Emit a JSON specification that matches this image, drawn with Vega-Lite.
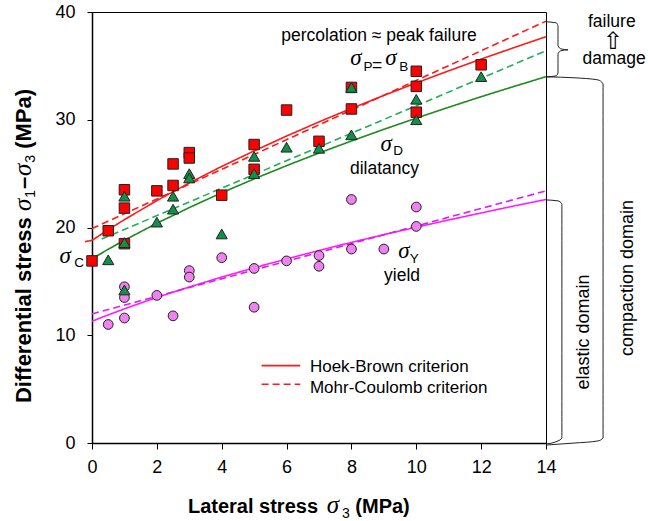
{
  "$schema": "https://vega.github.io/schema/vega-lite/v6.json",
  "width": 454,
  "height": 431,
  "autosize": {"type": "none"},
  "padding": {"left": 92, "top": 12, "right": 102, "bottom": 78},
  "background": "white",
  "config": {
    "view": {"stroke": "black", "strokeWidth": 1},
    "font": "Liberation Sans",
    "axis": {
      "grid": false,
      "domainColor": "black",
      "domainWidth": 1.5,
      "tickColor": "black",
      "tickSize": 6,
      "labelFlush": false,
      "labelFont": "Liberation Sans",
      "labelColor": "black"
    }
  },
  "datasets": {
    "curves": [
      {"x": -0.22, "y": 18.69, "set": "peak-HB", "crit": "HB"},
      {"x": 0, "y": 18.8, "set": "peak-HB", "crit": "HB"},
      {"x": 0.25, "y": 19.3, "set": "peak-HB", "crit": "HB"},
      {"x": 0.5, "y": 19.79, "set": "peak-HB", "crit": "HB"},
      {"x": 1, "y": 20.73, "set": "peak-HB", "crit": "HB"},
      {"x": 2, "y": 22.5, "set": "peak-HB", "crit": "HB"},
      {"x": 3, "y": 24.13, "set": "peak-HB", "crit": "HB"},
      {"x": 4, "y": 25.67, "set": "peak-HB", "crit": "HB"},
      {"x": 5, "y": 27.11, "set": "peak-HB", "crit": "HB"},
      {"x": 6, "y": 28.49, "set": "peak-HB", "crit": "HB"},
      {"x": 7, "y": 29.8, "set": "peak-HB", "crit": "HB"},
      {"x": 8, "y": 31.05, "set": "peak-HB", "crit": "HB"},
      {"x": 9, "y": 32.26, "set": "peak-HB", "crit": "HB"},
      {"x": 10, "y": 33.42, "set": "peak-HB", "crit": "HB"},
      {"x": 11, "y": 34.54, "set": "peak-HB", "crit": "HB"},
      {"x": 12, "y": 35.63, "set": "peak-HB", "crit": "HB"},
      {"x": 13, "y": 36.68, "set": "peak-HB", "crit": "HB"},
      {"x": 14, "y": 37.71, "set": "peak-HB", "crit": "HB"},
      {"x": 0, "y": 19.9, "set": "peak-MC", "crit": "MC"},
      {"x": 14, "y": 39.15, "set": "peak-MC", "crit": "MC"},
      {"x": 0, "y": 17.1, "set": "dil-HB", "crit": "HB"},
      {"x": 0.5, "y": 17.98, "set": "dil-HB", "crit": "HB"},
      {"x": 1, "y": 18.82, "set": "dil-HB", "crit": "HB"},
      {"x": 2, "y": 20.39, "set": "dil-HB", "crit": "HB"},
      {"x": 3, "y": 21.85, "set": "dil-HB", "crit": "HB"},
      {"x": 4, "y": 23.22, "set": "dil-HB", "crit": "HB"},
      {"x": 5, "y": 24.51, "set": "dil-HB", "crit": "HB"},
      {"x": 6, "y": 25.74, "set": "dil-HB", "crit": "HB"},
      {"x": 7, "y": 26.91, "set": "dil-HB", "crit": "HB"},
      {"x": 8, "y": 28.03, "set": "dil-HB", "crit": "HB"},
      {"x": 9, "y": 29.11, "set": "dil-HB", "crit": "HB"},
      {"x": 10, "y": 30.15, "set": "dil-HB", "crit": "HB"},
      {"x": 11, "y": 31.16, "set": "dil-HB", "crit": "HB"},
      {"x": 12, "y": 32.14, "set": "dil-HB", "crit": "HB"},
      {"x": 13, "y": 33.08, "set": "dil-HB", "crit": "HB"},
      {"x": 14, "y": 34.0, "set": "dil-HB", "crit": "HB"},
      {"x": 0.3, "y": 18.93, "set": "dil-MC", "crit": "MC"},
      {"x": 14, "y": 36.4, "set": "dil-MC", "crit": "MC"},
      {"x": 0, "y": 11.3, "set": "yield-HB", "crit": "HB"},
      {"x": 0.5, "y": 11.89, "set": "yield-HB", "crit": "HB"},
      {"x": 1, "y": 12.45, "set": "yield-HB", "crit": "HB"},
      {"x": 2, "y": 13.51, "set": "yield-HB", "crit": "HB"},
      {"x": 3, "y": 14.48, "set": "yield-HB", "crit": "HB"},
      {"x": 4, "y": 15.4, "set": "yield-HB", "crit": "HB"},
      {"x": 5, "y": 16.26, "set": "yield-HB", "crit": "HB"},
      {"x": 6, "y": 17.08, "set": "yield-HB", "crit": "HB"},
      {"x": 7, "y": 17.87, "set": "yield-HB", "crit": "HB"},
      {"x": 8, "y": 18.62, "set": "yield-HB", "crit": "HB"},
      {"x": 9, "y": 19.34, "set": "yield-HB", "crit": "HB"},
      {"x": 10, "y": 20.03, "set": "yield-HB", "crit": "HB"},
      {"x": 11, "y": 20.7, "set": "yield-HB", "crit": "HB"},
      {"x": 12, "y": 21.35, "set": "yield-HB", "crit": "HB"},
      {"x": 13, "y": 21.99, "set": "yield-HB", "crit": "HB"},
      {"x": 14, "y": 22.6, "set": "yield-HB", "crit": "HB"},
      {"x": 0, "y": 11.98, "set": "yield-MC", "crit": "MC"},
      {"x": 14, "y": 23.4, "set": "yield-MC", "crit": "MC"}
    ],
    "points": [
      {"x": 0.5, "y": 11.0, "type": "yield"},
      {"x": 1, "y": 14.5, "type": "yield"},
      {"x": 1, "y": 13.5, "type": "yield"},
      {"x": 1, "y": 11.6, "type": "yield"},
      {"x": 2, "y": 13.7, "type": "yield"},
      {"x": 2.5, "y": 11.8, "type": "yield"},
      {"x": 3, "y": 16.0, "type": "yield"},
      {"x": 3, "y": 15.4, "type": "yield"},
      {"x": 4, "y": 17.2, "type": "yield"},
      {"x": 5, "y": 16.2, "type": "yield"},
      {"x": 5, "y": 12.6, "type": "yield"},
      {"x": 6, "y": 16.9, "type": "yield"},
      {"x": 7, "y": 17.4, "type": "yield"},
      {"x": 7, "y": 16.4, "type": "yield"},
      {"x": 8, "y": 22.6, "type": "yield"},
      {"x": 8, "y": 18.0, "type": "yield"},
      {"x": 9, "y": 18.0, "type": "yield"},
      {"x": 10, "y": 21.9, "type": "yield"},
      {"x": 10, "y": 20.1, "type": "yield"},
      {"x": 0, "y": 16.9, "type": "peak"},
      {"x": 0.5, "y": 19.7, "type": "peak"},
      {"x": 1, "y": 23.5, "type": "peak"},
      {"x": 1, "y": 21.8, "type": "peak"},
      {"x": 1, "y": 18.5, "type": "peak"},
      {"x": 2, "y": 23.4, "type": "peak"},
      {"x": 2.5, "y": 25.9, "type": "peak"},
      {"x": 2.5, "y": 23.9, "type": "peak"},
      {"x": 3, "y": 26.95, "type": "peak"},
      {"x": 3, "y": 26.45, "type": "peak"},
      {"x": 4, "y": 23.0, "type": "peak"},
      {"x": 5, "y": 27.7, "type": "peak"},
      {"x": 5, "y": 25.4, "type": "peak"},
      {"x": 6, "y": 30.9, "type": "peak"},
      {"x": 7, "y": 28.0, "type": "peak"},
      {"x": 8, "y": 33.0, "type": "peak"},
      {"x": 8, "y": 31.0, "type": "peak"},
      {"x": 10, "y": 34.5, "type": "peak"},
      {"x": 10, "y": 33.1, "type": "peak"},
      {"x": 10, "y": 30.7, "type": "peak"},
      {"x": 12, "y": 35.1, "type": "peak"},
      {"x": 0.5, "y": 17.0, "type": "dilatancy"},
      {"x": 1, "y": 22.9, "type": "dilatancy"},
      {"x": 1, "y": 18.6, "type": "dilatancy"},
      {"x": 1, "y": 14.2, "type": "dilatancy"},
      {"x": 2, "y": 20.5, "type": "dilatancy"},
      {"x": 2.5, "y": 22.9, "type": "dilatancy"},
      {"x": 2.5, "y": 21.7, "type": "dilatancy"},
      {"x": 3, "y": 25.0, "type": "dilatancy"},
      {"x": 3, "y": 24.6, "type": "dilatancy"},
      {"x": 4, "y": 19.4, "type": "dilatancy"},
      {"x": 5, "y": 26.6, "type": "dilatancy"},
      {"x": 5, "y": 25.0, "type": "dilatancy"},
      {"x": 6, "y": 27.45, "type": "dilatancy"},
      {"x": 7, "y": 27.35, "type": "dilatancy"},
      {"x": 8, "y": 33.0, "type": "dilatancy"},
      {"x": 8, "y": 28.6, "type": "dilatancy"},
      {"x": 10, "y": 31.9, "type": "dilatancy"},
      {"x": 10, "y": 30.0, "type": "dilatancy"},
      {"x": 12, "y": 34.0, "type": "dilatancy"}
    ],
    "braces": [
      {"x": 14.0, "y": 39.09, "id": "f", "o": 1},
      {"x": 14.31, "y": 39.0, "id": "f", "o": 2},
      {"x": 14.37, "y": 38.72, "id": "f", "o": 3},
      {"x": 14.37, "y": 36.86, "id": "f", "o": 4},
      {"x": 14.46, "y": 36.58, "id": "f", "o": 5},
      {"x": 14.68, "y": 36.49, "id": "f", "o": 6},
      {"x": 14.46, "y": 36.4, "id": "f", "o": 7},
      {"x": 14.37, "y": 36.12, "id": "f", "o": 8},
      {"x": 14.37, "y": 34.35, "id": "f", "o": 9},
      {"x": 14.31, "y": 34.07, "id": "f", "o": 10},
      {"x": 14.0, "y": 33.98, "id": "f", "o": 11},
      {"x": 14.0, "y": 33.98, "id": "c", "o": 1},
      {"x": 14.89, "y": 33.89, "id": "c", "o": 2},
      {"x": 15.6, "y": 33.7, "id": "c", "o": 3},
      {"x": 15.76, "y": 33.33, "id": "c", "o": 4},
      {"x": 15.76, "y": 0.46, "id": "c", "o": 5},
      {"x": 15.6, "y": 0.19, "id": "c", "o": 6},
      {"x": 14.89, "y": 0.0, "id": "c", "o": 7},
      {"x": 14.0, "y": -0.19, "id": "c", "o": 8},
      {"x": 14.0, "y": 22.56, "id": "e", "o": 1},
      {"x": 14.37, "y": 22.47, "id": "e", "o": 2},
      {"x": 14.49, "y": 22.19, "id": "e", "o": 3},
      {"x": 14.49, "y": 0.46, "id": "e", "o": 4},
      {"x": 14.37, "y": 0.19, "id": "e", "o": 5},
      {"x": 14.0, "y": -0.09, "id": "e", "o": 6}
    ],
    "legendLines": [
      {"x": 5.23, "x2": 6.42, "y": 7.18, "crit": "HB"},
      {"x": 5.23, "x2": 6.42, "y": 5.45, "crit": "MC"}
    ],
    "legendText": [
      {"x": 6.72, "y": 6.62, "text": "Hoek-Brown criterion"},
      {"x": 6.72, "y": 4.61, "text": "Mohr-Coulomb criterion"}
    ],
    "notes": [
      {"x": 8.85, "y": 37.33, "text": "percolation ≈ peak failure"},
      {"x": 9.02, "y": 24.95, "text": "dilatancy"},
      {"x": 9.56, "y": 15.07, "text": "yield"},
      {"x": 16.03, "y": 38.63, "text": "failure"},
      {"x": 16.1, "y": 35.2, "text": "damage"},
      {"x": 8.79, "y": 34.49, "text": "="}
    ],
    "arrow": [
      {"x": 16.07, "y": 36.6, "text": "⇧"}
    ],
    "sigmas": [
      {"x": 8.14, "y": 35.1, "text": "σ"},
      {"x": 9.22, "y": 35.1, "text": "σ"},
      {"x": 9.07, "y": 27.1, "text": "σ"},
      {"x": 9.62, "y": 17.18, "text": "σ"},
      {"x": -0.83, "y": 16.71, "text": "σ"}
    ],
    "subs": [
      {"x": 8.51, "y": 34.54, "text": "P"},
      {"x": 9.61, "y": 34.54, "text": "B"},
      {"x": 9.44, "y": 26.7, "text": "D"},
      {"x": 9.94, "y": 16.71, "text": "Y"},
      {"x": -0.4, "y": 16.34, "text": "C"}
    ],
    "vnotes": [
      {"x": 16.53, "y": 15.32, "text": "compaction domain"},
      {"x": 15.17, "y": 10.3, "text": "elastic domain"}
    ],
    "xTitleRight": [
      {"x": 6.97, "y": -6.53, "text": "Lateral stress"}
    ],
    "xTitleLeft": [
      {"x": 8.12, "y": -6.53, "text": "(MPa)"}
    ],
    "xTitleSigma": [
      {"x": 7.43, "y": -6.53, "text": "σ"}
    ],
    "xTitleSub": [
      {"x": 7.83, "y": -6.96, "text": "3"}
    ],
    "yTitleBold": [
      {"x": -1.88, "y": 3.71, "text": "Differential stress"},
      {"x": -1.88, "y": 23.58, "text": "–"},
      {"x": -1.88, "y": 27.3, "text": "(MPa)"}
    ],
    "yTitleSigma": [
      {"x": -1.88, "y": 21.54, "text": "σ"},
      {"x": -1.88, "y": 24.79, "text": "σ"}
    ],
    "yTitleSub": [
      {"x": -1.76, "y": 22.75, "text": "1"},
      {"x": -1.76, "y": 26.0, "text": "3"}
    ]
  },
  "encoding": {
    "x": {"field": "x", "type": "quantitative", "scale": {"domain": [0, 14], "nice": false, "zero": false},
      "axis": {"values": [0, 2, 4, 6, 8, 10, 12, 14], "labelFontSize": 18, "labelPadding": 9, "title": null}},
    "y": {"field": "y", "type": "quantitative", "scale": {"domain": [0, 40], "nice": false, "zero": false},
      "axis": {"values": [0, 10, 20, 30, 40], "labelFontSize": 18, "labelPadding": 12, "tickSize": 5, "title": null}}
  },
  "layer": [
    {
      "data": {"name": "braces"},
      "mark": {"type": "line", "color": "#222222", "strokeWidth": 1, "interpolate": "monotone"},
      "encoding": {"detail": {"field": "id"}, "order": {"field": "o", "type": "quantitative"}}
    },
    {
      "data": {"name": "curves"},
      "mark": {"type": "line", "strokeWidth": 1.6},
      "encoding": {
        "color": {"field": "set", "type": "nominal", "legend": null,
          "scale": {"domain": ["peak-HB", "peak-MC", "dil-HB", "dil-MC", "yield-HB", "yield-MC"],
                    "range": ["#ff1a1a", "#ff1a1a", "#1c8a1c", "#1fae5a", "#ff1aff", "#d81ef0"]}},
        "strokeDash": {"field": "crit", "type": "nominal", "legend": null,
          "scale": {"domain": ["HB", "MC"], "range": [[1, 0], [7, 4]]}},
        "detail": {"field": "set"}
      }
    },
    {
      "data": {"name": "legendLines"},
      "mark": {"type": "rule", "color": "#ff1a1a", "strokeWidth": 1.6},
      "encoding": {
        "x2": {"field": "x2"},
        "strokeDash": {"field": "crit", "type": "nominal", "legend": null,
          "scale": {"domain": ["HB", "MC"], "range": [[1, 0], [7, 4]]}}
      }
    },
    {
      "data": {"name": "points"},
      "mark": {"type": "point", "filled": true, "stroke": "#222222", "strokeWidth": 1, "opacity": 1},
      "encoding": {
        "shape": {"field": "type", "type": "nominal", "legend": null,
          "scale": {"domain": ["yield", "peak", "dilatancy"], "range": ["circle", "square", "triangle-up"]}},
        "fill": {"field": "type", "type": "nominal", "legend": null,
          "scale": {"domain": ["yield", "peak", "dilatancy"], "range": ["#ee82ee", "#ff0000", "#10904a"]}},
        "size": {"field": "type", "type": "nominal", "legend": null,
          "scale": {"domain": ["yield", "peak", "dilatancy"], "range": [95, 125, 105]}}
      }
    },
    {
      "data": {"name": "legendText"},
      "mark": {"type": "text", "align": "left", "baseline": "alphabetic", "fontSize": 17, "font": "Liberation Sans", "color": "black"},
      "encoding": {"text": {"field": "text"}}
    },
    {
      "data": {"name": "notes"},
      "mark": {"type": "text", "align": "center", "baseline": "alphabetic", "fontSize": 17.5, "font": "Liberation Sans", "color": "black"},
      "encoding": {"text": {"field": "text"}}
    },
    {
      "data": {"name": "arrow"},
      "mark": {"type": "text", "align": "center", "baseline": "alphabetic", "fontSize": 24, "font": "DejaVu Sans", "fontWeight": "normal", "color": "black"},
      "encoding": {"text": {"field": "text"}}
    },
    {
      "data": {"name": "sigmas"},
      "mark": {"type": "text", "align": "center", "baseline": "alphabetic", "fontSize": 23, "font": "Liberation Serif", "fontStyle": "italic", "color": "black"},
      "encoding": {"text": {"field": "text"}}
    },
    {
      "data": {"name": "subs"},
      "mark": {"type": "text", "align": "center", "baseline": "alphabetic", "fontSize": 13.5, "font": "Liberation Sans", "color": "black"},
      "encoding": {"text": {"field": "text"}}
    },
    {
      "data": {"name": "vnotes"},
      "mark": {"type": "text", "align": "center", "baseline": "middle", "angle": 270, "fontSize": 18, "font": "Liberation Sans", "color": "black"},
      "encoding": {"text": {"field": "text"}}
    },
    {
      "data": {"name": "xTitleRight"},
      "mark": {"type": "text", "align": "right", "baseline": "alphabetic", "fontSize": 20, "fontWeight": "bold", "font": "Liberation Sans", "color": "black"},
      "encoding": {"text": {"field": "text"}}
    },
    {
      "data": {"name": "xTitleLeft"},
      "mark": {"type": "text", "align": "left", "baseline": "alphabetic", "fontSize": 20, "fontWeight": "bold", "font": "Liberation Sans", "color": "black"},
      "encoding": {"text": {"field": "text"}}
    },
    {
      "data": {"name": "xTitleSigma"},
      "mark": {"type": "text", "align": "center", "baseline": "alphabetic", "fontSize": 25, "font": "Liberation Serif", "fontStyle": "italic", "color": "black"},
      "encoding": {"text": {"field": "text"}}
    },
    {
      "data": {"name": "xTitleSub"},
      "mark": {"type": "text", "align": "center", "baseline": "alphabetic", "fontSize": 14, "font": "Liberation Sans", "color": "black"},
      "encoding": {"text": {"field": "text"}}
    },
    {
      "data": {"name": "yTitleBold"},
      "mark": {"type": "text", "align": "left", "baseline": "alphabetic", "angle": 270, "fontSize": 22, "fontWeight": "bold", "font": "Liberation Sans", "color": "black"},
      "encoding": {"text": {"field": "text"}}
    },
    {
      "data": {"name": "yTitleSigma"},
      "mark": {"type": "text", "align": "left", "baseline": "alphabetic", "angle": 270, "fontSize": 25, "font": "Liberation Serif", "fontStyle": "italic", "color": "black"},
      "encoding": {"text": {"field": "text"}}
    },
    {
      "data": {"name": "yTitleSub"},
      "mark": {"type": "text", "align": "left", "baseline": "alphabetic", "angle": 270, "fontSize": 14, "font": "Liberation Sans", "color": "black"},
      "encoding": {"text": {"field": "text"}}
    }
  ]
}
